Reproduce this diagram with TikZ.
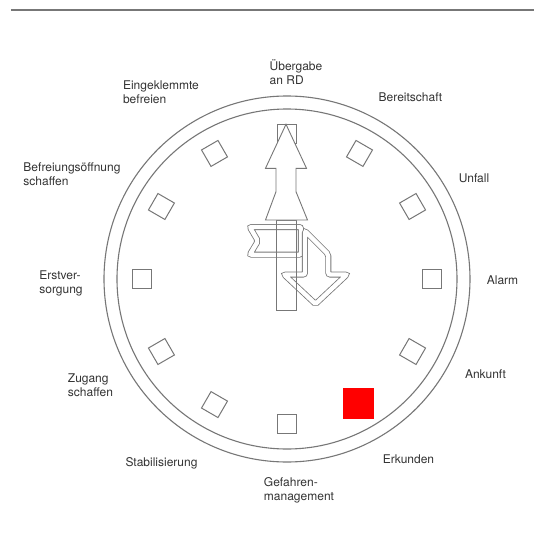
\documentclass[tikz,border=0pt]{standalone}
\usepackage{fontspec}
\setmainfont{TeX Gyre Heros}
\usetikzlibrary{positioning}
\definecolor{dialline}{HTML}{777777}
\definecolor{dialtext}{HTML}{333333}

\begin{document}
\begin{tikzpicture}[
    x=1pt, y=1pt,
    rim/.style={draw=dialline, line width=1.1pt},
    tick/.style={draw=dialline, line width=1pt, minimum size=19pt, inner sep=0pt},
    phase/.style={font=\fontsize{12}{14}\selectfont, text=dialtext, align=left, inner sep=0pt},
    hand/.style={draw=dialline, line width=0.9pt, fill=white},
    ribbon/.style={draw=dialline, line width=0.8pt, double=white, double distance=4.4pt, rounded corners=2pt},
]
\useasboundingbox[fill=white] (-287,-263) rectangle (247,279);
% === Header rule ===
\draw[dialline, line width=1.2pt] (-276,269) -- (247,269);
% === Dial: two rims and the twelve hour marks (5 o'clock is the red one) ===
\draw[rim] (0,0) circle[radius=183];
\draw[rim] (0,0) circle[radius=170];
\node[tick, rotate=90] (m12) at (90:145) {};
\node[tick, rotate=60] (m1) at (60:145) {};
\node[tick, rotate=30] (m2) at (30:145) {};
\node[tick] (m3) at (0:145) {};
\node[tick, rotate=-30] (m4) at (-30:145) {};
\node[fill=red, minimum size=31pt, inner sep=0pt] (m5) at (-60:144) {};
\node[tick, rotate=-90] (m6) at (-90:145) {};
\node[tick, rotate=-120] (m7) at (-120:145) {};
\node[tick, rotate=-150] (m8) at (-150:145) {};
\node[tick] (m9) at (180:145) {};
\node[tick, rotate=150] (m10) at (150:145) {};
\node[tick, rotate=120] (m11) at (120:145) {};
% === Phases around the dial ===
\node[phase] (uebergabe) at (9,207) {Übergabe\\an RD};
\node[phase] (bereitschaft) at (123.5,182) {Bereitschaft};
\node[phase] (unfall) at (187,101) {Unfall};
\node[phase] (alarm) at (215.5,-1) {Alarm};
\node[phase] (ankunft) at (198.5,-95) {Ankunft};
\node[phase] (erkunden) at (121.5,-180) {Erkunden};
\node[phase] (gefahren) at (12,-211) {Gefahren-\\management};
\node[phase] (stabil) at (-125.5,-184) {Stabilisierung};
\node[phase] (zugang) at (-196.5,-106) {Zugang\\schaffen};
\node[phase] (erstver) at (-226,-4.5) {Erstver-\\sorgung};
\node[phase] (oeffnung) at (-215,104.5) {Befreiungsöffnung\\schaffen};
\node[phase] (eingeklemmt) at (-126,187) {Eingeklemmte\\befreien};
% === Hands: flag with bent arm, then shaft and the upward arrow ===
\draw[ribbon] (-37.3,52) -- (14,52) -- (14,24.3) -- (-37.3,24.3) -- (-29,38) -- cycle;
\draw[ribbon] (18,48) -- (41.3,24.7) -- (41.3,4.5) -- (60,4.5) -- (28.5,-25)
    -- (-3,4.5) -- (18,4.5) -- cycle;
\draw[draw=dialline, line width=0.9pt] (-11,59) rectangle (9,-31);
\draw[hand] (-1,154.7) -- (19.5,110.7) -- (9,110.7) -- (9,87.3) -- (20.5,59)
    -- (-21.5,59) -- (-11,87.3) -- (-11,110.7) -- (-21.5,110.7) -- cycle;
\end{tikzpicture}
\end{document}
